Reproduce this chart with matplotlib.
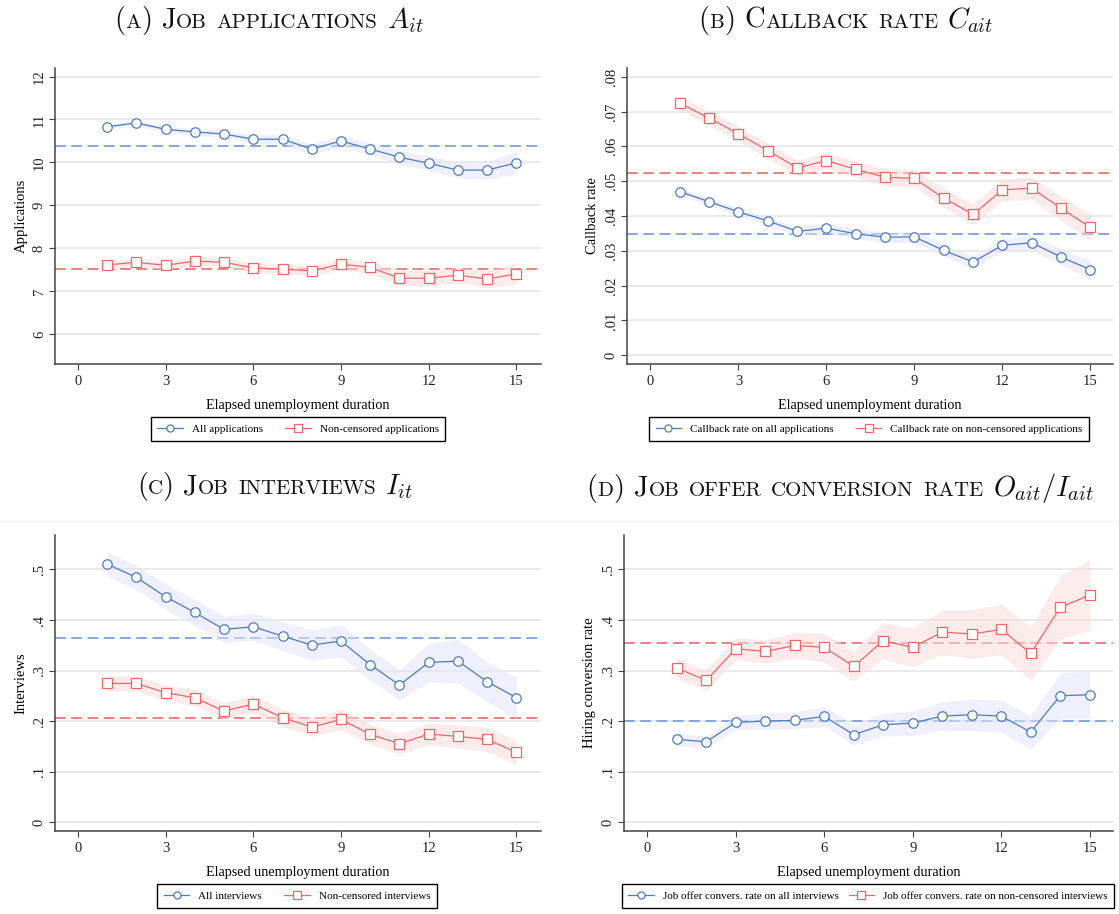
import matplotlib
matplotlib.use('Agg')
import matplotlib.pyplot as plt
import numpy as np
from matplotlib.ticker import FuncFormatter

plt.rcParams['font.family'] = 'Liberation Serif'
plt.rcParams['mathtext.fontset'] = 'cm'

months = np.arange(1, 16)

# (a) job applications
apps_all = [10.83, 10.92, 10.77, 10.71, 10.66, 10.54, 10.54, 10.31, 10.50, 10.31, 10.12, 9.98, 9.82, 9.82, 9.99]
apps_all_ci = [0.05, 0.06, 0.07, 0.08, 0.09, 0.10, 0.11, 0.12, 0.13, 0.14, 0.16, 0.17, 0.19, 0.21, 0.26]
apps_nc = [7.61, 7.67, 7.60, 7.70, 7.67, 7.54, 7.51, 7.47, 7.63, 7.55, 7.30, 7.30, 7.37, 7.28, 7.40]
apps_nc_ci = [0.08, 0.09, 0.09, 0.10, 0.10, 0.11, 0.11, 0.12, 0.13, 0.14, 0.18, 0.18, 0.18, 0.20, 0.24]
apps_means = [10.39, 7.51]

# (b) callback rate
cb_all = [.0470, .0441, .0412, .0386, .0356, .0365, .0349, .0339, .0340, .0301, .0268, .0316, .0323, .0282, .0246]
cb_all_ci = [.0010, .0011, .0012, .0012, .0013, .0014, .0014, .0015, .0016, .0017, .0018, .0019, .0021, .0023, .0026]
cb_nc = [.0724, .0681, .0636, .0588, .0538, .0559, .0534, .0511, .0508, .0451, .0405, .0475, .0480, .0422, .0367]
cb_nc_ci = [.0020, .0020, .0021, .0022, .0022, .0023, .0024, .0025, .0026, .0027, .0029, .0031, .0033, .0035, .0038]
cb_means = [.0347, .0524]

# (c) job interviews
int_all = [.5105, .4842, .4460, .4150, .3814, .3867, .3682, .3505, .3584, .3116, .2714, .3162, .3188, .2780, .2464]
int_all_ci = [.024, .024, .025, .026, .026, .027, .028, .030, .032, .031, .030, .038, .043, .040, .040]
int_nc = [.2747, .2747, .2563, .2464, .2200, .2339, .2069, .1884, .2036, .1739, .1555, .1746, .1700, .1640, .1383]
int_nc_ci = [.015, .015, .015, .016, .016, .017, .017, .018, .020, .020, .020, .022, .023, .024, .024]
int_means = [.3636, .2055]

# (d) job offer conversion rate
conv_all = [.1640, .1594, .1976, .2002, .2016, .2095, .1733, .1930, .1963, .2101, .2128, .2101, .1785, .2503, .2523]
conv_all_ci = [.012, .012, .014, .016, .017, .019, .020, .022, .024, .028, .031, .032, .033, .045, .047]
conv_nc = [.3050, .2806, .3432, .3379, .3498, .3458, .3083, .3590, .3458, .3762, .3722, .3814, .3340, .4249, .4493]
conv_nc_ci = [.020, .020, .022, .023, .026, .028, .030, .036, .038, .044, .048, .050, .053, .062, .070]
conv_means = [.2009, .3544]

BLUE = '#4a7cc2'
RED = '#ee6767'
BLUE_DASH = '#7aa0dc'
RED_DASH = '#f07575'
BLUE_BAND = '#e2e5f8'
RED_BAND = '#fadcdc'

W, H = 1119, 914
fig = plt.figure(figsize=(W / 100, H / 100), dpi=100)


def strip_zero(v, pos):
    if abs(v) < 1e-9:
        return '0'
    s = ('%g' % round(v, 4))
    return s.replace('0.', '.', 1) if s.startswith('0.') else s


panels = [
    dict(box=(55, 68, 541, 364), xlim=(-0.78, 15.84), ylim=(5.3, 12.2), yticks=np.arange(6, 13, 1),
         ylabel='Applications', series=(apps_all, apps_all_ci, apps_nc, apps_nc_ci), means=apps_means,
         labels=('All applications', 'Non-censored applications'), legend=(298, 429), colsp=2.0),
    dict(box=(627, 68, 1113, 364), xlim=(-0.80, 15.77), ylim=(-0.0025, 0.0825), yticks=np.arange(0, 0.081, 0.01),
         ylabel='Callback rate', series=(cb_all, cb_all_ci, cb_nc, cb_nc_ci), means=cb_means,
         labels=('Callback rate on all applications', 'Callback rate on non-censored applications'),
         legend=(869, 429), colsp=2.0),
    dict(box=(55, 535, 541, 831), xlim=(-0.78, 15.84), ylim=(-0.017, 0.568), yticks=np.arange(0, 0.51, 0.1),
         ylabel='Interviews', series=(int_all, int_all_ci, int_nc, int_nc_ci), means=int_means,
         labels=('All interviews', 'Non-censored interviews'), legend=(297, 896), colsp=2.0),
    dict(box=(624, 535, 1113, 831), xlim=(-0.79, 15.79), ylim=(-0.017, 0.568), yticks=np.arange(0, 0.51, 0.1),
         ylabel='Hiring conversion rate', series=(conv_all, conv_all_ci, conv_nc, conv_nc_ci), means=conv_means,
         labels=('Job offer convers. rate on all interviews', 'Job offer convers. rate on non-censored interviews'),
         legend=(868, 896), colsp=0.9),
]

for p in panels:
    x0, y0, x1, y1 = p['box']
    ax = fig.add_axes([x0 / W, 1 - y1 / H, (x1 - x0) / W, (y1 - y0) / H])
    ax.set_xlim(*p['xlim'])
    ax.set_ylim(*p['ylim'])
    ax.set_xticks([0, 3, 6, 9, 12, 15])
    ax.set_yticks(p['yticks'])
    ax.yaxis.set_major_formatter(FuncFormatter(strip_zero))
    for s in ['top', 'right']:
        ax.spines[s].set_visible(False)
    for s in ['left', 'bottom']:
        ax.spines[s].set_color('#444444')
        ax.spines[s].set_linewidth(1.1)
    ax.grid(axis='y', color='#e4e4e4', lw=1.1)
    ax.set_axisbelow(True)
    ax.tick_params(direction='out', length=4, width=0.8, color='#444444', labelsize=10.5, labelcolor='#222222')
    ax.tick_params(axis='y', labelrotation=90, pad=2.5)
    ax.tick_params(axis='x', pad=4)
    for lbl in ax.get_yticklabels():
        lbl.set_va('center')
    ax.set_ylabel(p['ylabel'], fontsize=10.5, labelpad=4)
    ax.set_xlabel('Elapsed unemployment duration', fontsize=10.2, labelpad=8)

    m_all, ci_all, m_nc, ci_nc = [np.asarray(a) for a in p['series']]
    mean_all, mean_nc = p['means']
    ax.axhline(mean_all, color=BLUE_DASH, lw=1.3, ls=(0, (6, 3)), zorder=1)
    ax.axhline(mean_nc, color=RED_DASH, lw=1.3, ls=(0, (6, 3)), zorder=1)
    ax.fill_between(months, m_all - ci_all, m_all + ci_all, color=BLUE_BAND, alpha=0.55, lw=0, zorder=2)
    ax.fill_between(months, m_nc - ci_nc, m_nc + ci_nc, color=RED_BAND, alpha=0.55, lw=0, zorder=2)
    h1, = ax.plot(months, m_all, color=BLUE, lw=0.9, marker='o', ms=6.8, mfc='white', mec=BLUE, mew=0.9,
                  zorder=3, label=p['labels'][0])
    h2, = ax.plot(months, m_nc, color=RED, lw=0.9, marker='s', ms=6.8, mfc='white', mec=RED, mew=0.9,
                  zorder=3, label=p['labels'][1])
    lx, ly = p['legend']
    leg = ax.legend([h1, h2], p['labels'], loc='center', bbox_to_anchor=(lx / W, 1 - ly / H),
                    bbox_transform=fig.transFigure, ncol=2, fontsize=8, frameon=True, fancybox=False,
                    edgecolor='black', framealpha=1, handlelength=2.3, columnspacing=p['colsp'], borderpad=0.6,
                    handletextpad=0.8, markerscale=0.75)
    leg.get_frame().set_linewidth(1.0)

# light separator between the two rows
fig.add_artist(plt.Line2D([0, 1], [1 - 520.5 / H, 1 - 520.5 / H], color='#f2f2f2', lw=1))


def smallcaps_title(xc, y_base, text, math, big=20.5, small=15):
    renderer = fig.canvas.get_renderer()
    pieces = []
    for i, word in enumerate(text.split(' ')):
        if i > 0:
            pieces.append(None)
        run, run_size = '', None
        for ch in word:
            size = small if ch.islower() else big
            if run_size is not None and size != run_size:
                pieces.append((run, run_size))
                run = ''
            run += ch.upper()
            run_size = size
        pieces.append((run, run_size))
    pieces.append(None)
    pieces.append((math, big))
    gap = 0.33 * big * fig.dpi / 72
    arts, widths = [], []
    for pc in pieces:
        if pc is None:
            arts.append(None)
            widths.append(gap)
            continue
        s, size = pc
        fam = 'cmr10' if not s.startswith('$') else 'Liberation Serif'
        t = fig.text(0, 1 - y_base / H, s, fontsize=size, family=fam, ha='left', va='baseline', color='#111111')
        arts.append(t)
        widths.append(t.get_window_extent(renderer).width)
    x = xc - sum(widths) / 2
    for t, w in zip(arts, widths):
        if t is not None:
            t.set_x(x / W)
        x += w


smallcaps_title(269, 28, '(a) Job applications', r'$A_{it}$')
smallcaps_title(846, 28, '(b) Callback rate', r'$C_{ait}$')
smallcaps_title(275, 494, '(c) Job interviews', r'$I_{it}$')
smallcaps_title(840, 496, '(d) Job offer conversion rate', r'$O_{ait}/I_{ait}$')

fig.savefig('out.png', dpi=100)
